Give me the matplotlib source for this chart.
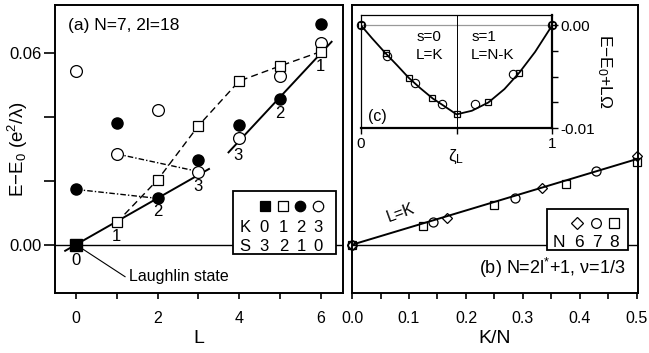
import matplotlib
matplotlib.use("Agg")
import matplotlib.pyplot as plt
from matplotlib.patches import Rectangle
from matplotlib.ticker import MultipleLocator, FixedLocator, FormatStrFormatter

plt.rcParams['font.family'] = ['Liberation Sans', 'DejaVu Sans']
plt.rcParams['mathtext.fontset'] = 'custom'
plt.rcParams['mathtext.rm'] = 'Liberation Sans'
plt.rcParams['mathtext.it'] = 'Liberation Sans:italic'

# ---------------- panel (a) data ----------------
K0_L = [0]
K0_E = [0.0]
K1_L = [1, 2, 3, 4, 5, 6]
K1_E = [0.0070, 0.0203, 0.0372, 0.0512, 0.0559, 0.0604]
K2_L = [0, 1, 2, 3, 4, 5, 6]
K2_E = [0.0173, 0.0380, 0.0145, 0.0265, 0.0375, 0.0456, 0.0690]
K3_L = [0, 1, 2, 3, 4, 5, 6]
K3_E = [0.0545, 0.0284, 0.0422, 0.0229, 0.0333, 0.0528, 0.0630]
fitA_L = [-0.27, 3.26]
fitA_E = [-0.0019, 0.0237]
fitB_L = [3.74, 6.27]
fitB_E = [0.0289, 0.0635]
legend_K = ['0', '1', '2', '3']
legend_S = ['3', '2', '1', '0']

# ---------------- panel (b) data ----------------
N6_x = [0, 1/6, 2/6, 3/6]
N6_E = [0.0, 0.0083, 0.0177, 0.0278]
N7_x = [0, 1/7, 2/7, 3/7]
N7_E = [0.0, 0.0072, 0.0147, 0.0231]
N8_x = [0, 1/8, 2/8, 3/8, 4/8]
N8_E = [0.0, 0.00585, 0.0124, 0.0190, 0.0258]
lineK_x = [0.0, 0.5]
lineK_E = [0.0, 0.0268]
legend_N = ['6', '7', '8']

# ---------------- inset (c) data ----------------
c_sq_x = [0.0, 0.130, 0.252, 0.374, 0.500, 0.666, 0.828, 1.0]
c_sq_y = [0.0, -0.00274, -0.0051, -0.0071, -0.00865, -0.0075, -0.0046, 0.0]
c_ci_x = [0.0, 0.136, 0.283, 0.426, 0.597, 0.797, 1.0]
c_ci_y = [0.0, -0.0030, -0.00558, -0.00768, -0.00768, -0.00477, 0.0]
c_curve_x = [0.0, 0.06, 0.13, 0.19, 0.25, 0.31, 0.375, 0.44, 0.5,
             0.58, 0.666, 0.75, 0.828, 0.91, 1.0]
c_curve_y = [0.0, -0.0013, -0.00274, -0.0039, -0.0051, -0.0061, -0.0071, -0.0079, -0.00865,
             -0.0083, -0.0075, -0.0062, -0.0046, -0.0026, 0.0]

fig = plt.figure(figsize=(6.49, 3.53), dpi=100)
axA = fig.add_axes([0.0847, 0.170, 0.4438, 0.8158])
axB = fig.add_axes([0.5424, 0.170, 0.4407, 0.8158])
axC = fig.add_axes([0.5558, 0.6365, 0.2953, 0.321])

for ax in (axA, axB):
    for s in ax.spines.values():
        s.set_linewidth(1.4)

# ---- panel (a) ----
axA.set_xlim(-0.52, 6.55)
axA.set_ylim(-0.0151, 0.075)
axA.axhline(0, color='black', lw=1.0, zorder=1)
axA.plot(fitA_L, fitA_E, '-', color='black', lw=1.4, zorder=2)
axA.plot(fitB_L, fitB_E, '-', color='black', lw=1.4, zorder=2)
axA.plot(K1_L, K1_E, '--', color='black', lw=1.0, dashes=(5, 3), zorder=2)
axA.plot(K3_L[1:4:2], K3_E[1:4:2], color='black', lw=1.0, dashes=(4, 1.5, 1, 1.5), zorder=2)
axA.plot(K2_L[0:3:2], K2_E[0:3:2], color='black', lw=1.0, dashes=(4, 1.5, 1, 1.5), zorder=2)
axA.plot(K3_L, K3_E, 'o', ms=8.5, mfc='white', mec='black', mew=0.9, ls='none', zorder=3)
axA.plot(K2_L, K2_E, 'o', ms=8, mfc='black', mec='black', ls='none', zorder=3)
axA.plot(K1_L, K1_E, 's', ms=7, mfc='white', mec='black', mew=0.9, ls='none', zorder=4)
axA.plot(K0_L, K0_E, 's', ms=8.5, mfc='black', mec='black', ls='none', zorder=4)

for txt, x, y in [('0', 0.0, -0.0050), ('1', 0.98, 0.0025), ('2', 2.0, 0.0103), ('3', 2.99, 0.0181),
                  ('3', 3.97, 0.0280), ('2', 5.0, 0.0412), ('1', 6.0, 0.0557)]:
    axA.text(x, y, txt, ha='center', va='center', fontsize=12)

axA.plot([0, 1.2], [0, -0.0100], color='black', lw=0.8, zorder=2)
axA.text(1.3, -0.0099, 'Laughlin state', ha='left', va='center', fontsize=11.5)
axA.text(0.045, 0.93, '(a) N=7, 2l=18', transform=axA.transAxes, ha='left', va='center', fontsize=12.5)

axA.xaxis.set_major_locator(FixedLocator([0, 2, 4, 6]))
axA.xaxis.set_minor_locator(FixedLocator([1, 3, 5]))
axA.yaxis.set_major_locator(FixedLocator([0.0, 0.06]))
axA.yaxis.set_minor_locator(FixedLocator([0.02, 0.04]))
axA.set_xticklabels(['0', '2', '4', '6'])
axA.set_yticklabels(['0.00', '0.06'])
axA.tick_params(axis='x', which='both', direction='out', length=4, width=1.2, labelsize=11.5, pad=9)
axA.tick_params(axis='y', which='both', direction='out', length=8, width=1.2, labelsize=12, pad=1.5)
axA.set_xlabel('L', fontsize=14, labelpad=3)
axA.set_ylabel('E\u2212E$_0$ (e$^2$/\u03bb)', fontsize=13.5)
axA.yaxis.set_label_coords(-0.085, 0.5)

# legend box (a)
axA.add_patch(Rectangle((0.619, 0.134), 0.357, 0.220, transform=axA.transAxes,
                        facecolor='white', edgecolor='black', lw=1.3, zorder=5))
sym_x = [0.729, 0.791, 0.851, 0.912]
sym = [('s', 'black'), ('s', 'white'), ('o', 'black'), ('o', 'white')]
for (m, fc), cx in zip(sym, sym_x):
    axA.plot([cx], [0.302], m, ms=7.5, mfc=fc, mec='black', mew=0.9, transform=axA.transAxes, zorder=6)
cols = [0.727, 0.793, 0.854, 0.914]
axA.text(0.660, 0.227, 'K', transform=axA.transAxes, ha='center', va='center', fontsize=12, zorder=6)
axA.text(0.660, 0.163, 'S', transform=axA.transAxes, ha='center', va='center', fontsize=12, zorder=6)
for k, s_, cx in zip(legend_K, legend_S, cols):
    axA.text(cx, 0.227, k, transform=axA.transAxes, ha='center', va='center', fontsize=12, zorder=6)
    axA.text(cx, 0.163, s_, transform=axA.transAxes, ha='center', va='center', fontsize=12, zorder=6)

# ---- panel (b) ----
axB.set_xlim(0, 0.502)
axB.set_ylim(-0.0151, 0.075)
axB.axhline(0, color='black', lw=1.0, zorder=1)
axB.plot(lineK_x, lineK_E, '-', color='black', lw=1.4, zorder=2)
axB.plot(N8_x, N8_E, 's', ms=5.5, mfc='none', mec='black', mew=0.9, ls='none', zorder=3, clip_on=False)
axB.plot(N7_x, N7_E, 'o', ms=6.5, mfc='none', mec='black', mew=0.9, ls='none', zorder=3, clip_on=False)
axB.plot(N6_x, N6_E, 'D', ms=5.5, mfc='none', mec='black', mew=0.9, ls='none', zorder=3, clip_on=False)
axB.text(0.0847, 0.0101, 'L=K', rotation=20, ha='center', va='center', fontsize=11.5)
axB.text(0.955, 0.087, '(b) N=2l$^{*}$+1, \u03bd=1/3', transform=axB.transAxes,
         ha='right', va='center', fontsize=13)
axB.xaxis.set_major_locator(MultipleLocator(0.1))
axB.xaxis.set_minor_locator(MultipleLocator(0.05))
axB.xaxis.set_major_formatter(FormatStrFormatter('%.1f'))
axB.set_yticks([])
axB.tick_params(which='both', direction='out', length=4, width=1.2, labelsize=11.5, pad=9)
axB.set_xlabel('K/N', fontsize=14, labelpad=3)

axB.add_patch(Rectangle((0.683, 0.149), 0.283, 0.143, transform=axB.transAxes,
                        facecolor='white', edgecolor='black', lw=1.3, zorder=5))
symB_x = [0.788, 0.852, 0.916]
for m, cx in zip(['D', 'o', 's'], symB_x):
    axB.plot([cx], [0.244], m, ms={'D': 6, 'o': 7, 's': 6.5}[m], mfc='white', mec='black', mew=0.9,
             transform=axB.transAxes, zorder=6)
axB.text(0.722, 0.175, 'N', transform=axB.transAxes, ha='center', va='center', fontsize=12.5, zorder=6)
for n, cx in zip(legend_N, [0.795, 0.856, 0.916]):
    axB.text(cx, 0.175, n, transform=axB.transAxes, ha='center', va='center', fontsize=12.5, zorder=6)

# ---- inset (c) ----
axC.set_xlim(0, 1)
axC.set_ylim(-0.01, 0.00097)
axC.axhline(0, color='#999999', lw=0.9, zorder=1)
axC.axvline(0.5, color='black', lw=0.7, zorder=1)
axC.plot(c_curve_x, c_curve_y, '-', color='black', lw=1.3, zorder=2)
axC.plot(c_ci_x, c_ci_y, 'o', ms=6, mfc='none', mec='black', mew=0.8, ls='none', zorder=3, clip_on=False)
axC.plot(c_sq_x, c_sq_y, 's', ms=5, mfc='none', mec='black', mew=0.9, ls='none', zorder=3, clip_on=False)
axC.spines['top'].set_linewidth(0.9)
axC.spines['left'].set_linewidth(0.9)
axC.spines['bottom'].set_linewidth(1.6)
axC.spines['right'].set_linewidth(1.6)
axC.text(0.289, -0.00113, 's=0', ha='left', va='center', fontsize=11)
axC.text(0.289, -0.0029, 'L=K', ha='left', va='center', fontsize=11)
axC.text(0.576, -0.00113, 's=1', ha='left', va='center', fontsize=11)
axC.text(0.576, -0.0029, 'L=N-K', ha='left', va='center', fontsize=11)
axC.text(0.04, -0.0089, '(c)', ha='left', va='center', fontsize=11.5)
axC.xaxis.set_major_locator(FixedLocator([0, 0.5, 1]))
axC.set_xticklabels(['0', '', '1'])
axC.yaxis.tick_right()
axC.yaxis.set_label_position('right')
axC.yaxis.set_major_locator(FixedLocator([-0.01, 0.0]))
axC.yaxis.set_minor_locator(FixedLocator([-0.0075, -0.005, -0.0025]))
axC.set_yticklabels(['-0.01', '0.00'])
axC.tick_params(which='both', direction='out', length=4, width=1.0, labelsize=11, pad=2)
axC.set_xlabel('\u03b6$_\\mathrm{L}$', fontsize=12.5, labelpad=-2)
axC.set_ylabel('E\u2212E$_0$+L\u03a9', fontsize=12.5, rotation=270, labelpad=13)

fig.savefig('out.png', dpi=100)
